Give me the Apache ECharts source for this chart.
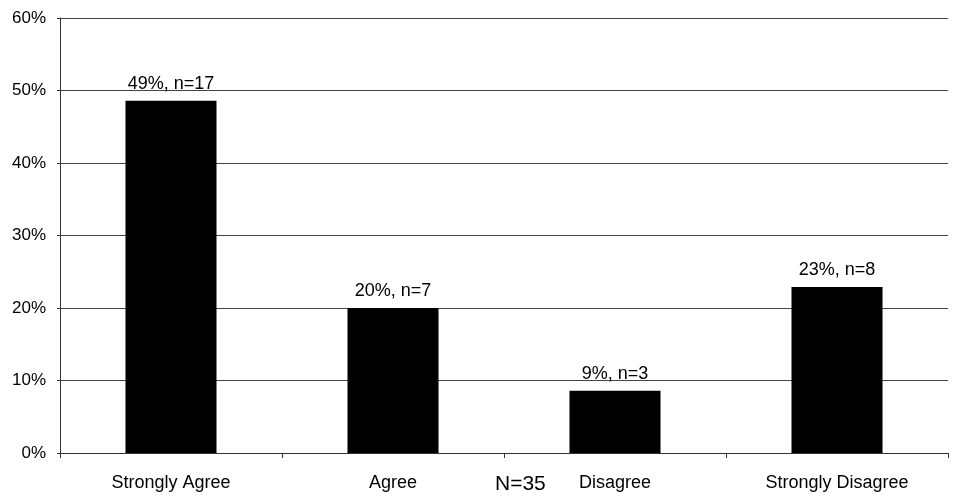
<!DOCTYPE html>
<html>
<head>
<meta charset="utf-8">
<script type="text/javascript" src="https://cdn.jsdelivr.net/npm/echarts@6/dist/echarts.min.js"></script>
<style type="text/css">
    * { margin: 0; padding: 0; }
    #container { width: 969px; height: 497px; background: #fff; }
</style>
</head>
<body>
<div id="container"></div>
<script type="text/javascript">
var categories = ['Strongly Agree', 'Agree', 'Disagree', 'Strongly Disagree'];
var percents = [48.6, 20.0, 8.6, 22.9];
var counts = [17, 7, 3, 8];
var yTicks = [0, 10, 20, 30, 40, 50, 60];
var totalLabel = 'N=35';

var chart = echarts.init(document.getElementById('container'));

var option = {
    animation: false,
    backgroundColor: '#fff',
    textStyle: { fontFamily: 'Liberation Sans, Arial, sans-serif' },
    grid: { left: 60, right: 21, top: 18, bottom: 44 },
    xAxis: {
        type: 'category',
        data: categories,
        axisLine: { show: true, lineStyle: { color: '#333', width: 1 } },
        axisTick: { show: true, length: 5, lineStyle: { color: '#333' } },
        axisLabel: { color: '#000', fontSize: 18, margin: 21 },
        splitLine: { show: false }
    },
    yAxis: {
        type: 'value',
        min: yTicks[0],
        max: yTicks[yTicks.length - 1],
        interval: 10,
        axisLine: { show: true, lineStyle: { color: '#333', width: 1 } },
        axisTick: { show: true, length: 3, inside: false, lineStyle: { color: '#333' } },
        axisLabel: { color: '#000', fontSize: 17, margin: 14, formatter: '{value}%' },
        splitLine: { show: true, lineStyle: { color: '#444', width: 1 } }
    },
    series: [{
        type: 'bar',
        data: percents,
        barWidth: '41%',
        itemStyle: { color: '#000' },
        label: {
            show: true,
            position: 'top',
            distance: 8,
            color: '#000',
            fontSize: 18,
            formatter: function (p) {
                return Math.round(p.value) + '%, n=' + counts[p.dataIndex];
            }
        }
    }],
    graphic: [{
        type: 'text',
        left: 495,
        top: 474,
        style: { text: totalLabel, fill: '#000', fontSize: 21, fontFamily: 'Liberation Sans, Arial, sans-serif' }
    }]
};

chart.setOption(option);
</script>
</body>
</html>
